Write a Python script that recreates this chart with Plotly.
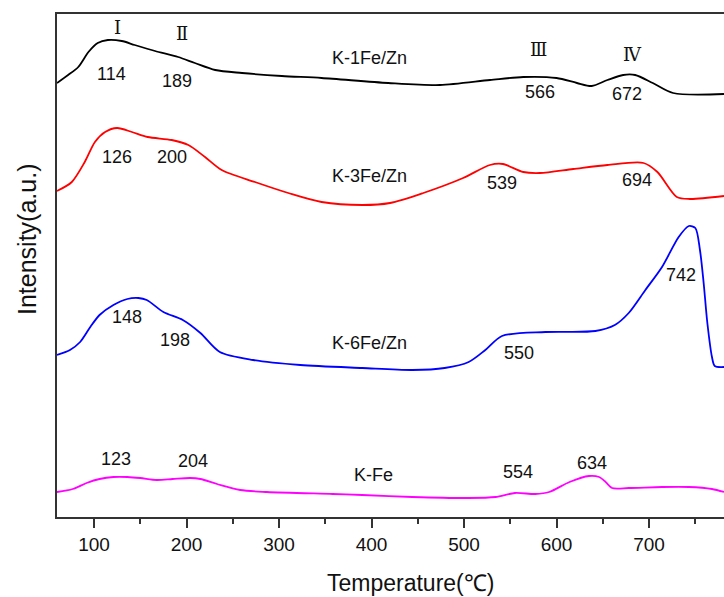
import plotly.graph_objects as go

# ---- H2-TPR profiles (temperature in degC, intensity in a.u., curves stacked) ----
temp_k1 = [60, 72, 83, 94, 104, 115, 130, 144, 166, 191, 209, 231, 260, 303, 346, 418,
           474, 528, 564, 600, 622, 638, 655, 672, 685, 704, 726, 781]
int_k1 = [434, 442, 450, 465, 474, 477, 476, 472, 466, 460, 454, 447, 444, 441, 439, 434,
          432, 437, 440, 439, 434, 431, 437, 442, 442, 434, 424, 423]

temp_k3 = [60, 76, 90, 101, 112, 125, 141, 158, 184, 202, 220, 238, 274, 310, 346, 390,
           420, 456, 499, 528, 542, 564, 582, 618, 655, 694, 709, 730, 744, 781]
int_k3 = [326, 335, 355, 375, 385, 389, 385, 380, 377, 372, 360, 347, 335, 324, 315, 312,
          314, 324, 339, 352, 353, 345, 344, 348, 352, 354, 345, 320, 318, 321]

temp_k6 = [60, 74, 85, 96, 106, 121, 136, 148, 157, 175, 196, 215, 236, 272, 323, 390, 444,
           479, 505, 523, 541, 588, 642, 663, 678, 696, 714, 732, 743, 750, 755, 759, 763,
           768, 771, 781]
int_k6 = [162, 167, 175, 190, 202, 212, 218, 219, 217, 205, 197, 184, 165, 157, 152, 149, 147,
          149, 155, 167, 181, 185, 186, 192, 204, 227, 250, 280, 291, 289, 267, 234, 194,
          160, 151, 150]

temp_kfe = [60, 77, 92, 106, 121, 136, 150, 168, 185, 204, 215, 233, 258, 287, 358, 390,
            444, 505, 534, 555, 577, 592, 614, 635, 646, 652, 660, 678, 714, 743, 768, 781]
int_kfe = [25, 28, 34, 38, 40, 40, 39, 37, 38, 39, 38, 33, 27, 25, 23, 22,
           20, 19, 20, 24, 23, 25, 35, 41, 40, 36, 29, 29, 30, 30, 28, 25]

sample_names = ["K-1Fe/Zn", "K-3Fe/Zn", "K-6Fe/Zn", "K-Fe"]
sample_colors = ["#000000", "#ff0000", "#0000ff", "#ff00ff"]

# reduction peak temperatures per sample
peaks_k1 = [114, 189, 566, 672]
peaks_k3 = [126, 200, 539, 694]
peaks_k6 = [148, 198, 550, 742]
peaks_kfe = [123, 204, 554, 634]

region_labels = ["Ⅰ", "Ⅱ", "Ⅲ", "Ⅳ"]

x_ticks = [100, 200, 300, 400, 500, 600, 700]

# ---- placement of the text labels (x, y in data units) ----
peak_label_pos = [
    [(119, 443), (190, 436), (582, 425), (676, 423)],
    [(125, 360), (184, 360), (541, 334), (687, 337)],
    [(136, 200), (188, 177), (559, 164), (734, 242)],
    [(124, 58), (207, 56), (558, 45), (638, 54)],
]
name_pos = [(398, 459), (398, 341), (398, 174), (402, 42)]
region_pos = [(125, 490), (195, 484), (580, 468), (682, 463)]

curves = [(temp_k1, int_k1), (temp_k3, int_k3), (temp_k6, int_k6), (temp_kfe, int_kfe)]
peaks = [peaks_k1, peaks_k3, peaks_k6, peaks_kfe]

fig = go.Figure()
for (t, y), name, col in zip(curves, sample_names, sample_colors):
    fig.add_trace(go.Scatter(
        x=t, y=y, mode="lines", name=name,
        line=dict(color=col, width=1.8, shape="spline", smoothing=0.8),
        showlegend=False, hoverinfo="x+name",
    ))

sans = "Liberation Sans, Arial, sans-serif"
annotations = []
for pk, pos in zip(peaks, peak_label_pos):
    for value, (px, py) in zip(pk, pos):
        annotations.append(dict(x=px, y=py, xref="x", yref="y", text=str(value),
                                showarrow=False, font=dict(family=sans, size=18, color="#111")))
for name, (px, py) in zip(sample_names, name_pos):
    annotations.append(dict(x=px, y=py, xref="x", yref="y", text=name,
                            showarrow=False, font=dict(family=sans, size=18, color="#111")))
for lab, (px, py) in zip(region_labels, region_pos):
    annotations.append(dict(x=px, y=py, xref="x", yref="y", text=lab,
                            showarrow=False,
                            font=dict(family="DejaVu Serif, Liberation Serif, serif",
                                      size=18, color="#111")))

# axis titles, positioned in pixels and converted to paper coordinates below
W, H = 724, 597
ml, mr, mt, mb = 57, 0, 14, 80
title_specs = [
    ("Temperature(℃)", 410, 583, 0, 23),
    ("Intensity(a.u.)", 27, 240, -90, 25),
]
for text, px, py, ang, size in title_specs:
    annotations.append(dict(
        x=(px - ml) / (W - ml - mr), y=(H - mb - py) / (H - mt - mb),
        xref="paper", yref="paper", xanchor="center", yanchor="middle",
        text=text, textangle=ang, showarrow=False,
        font=dict(family=sans, size=size, color="#111"),
    ))

fig.update_layout(
    width=W, height=H,
    margin=dict(l=ml, r=mr, t=mt, b=mb, pad=0),
    paper_bgcolor="white", plot_bgcolor="white",
    annotations=annotations,
    xaxis=dict(
        range=[60, 781], tickvals=x_ticks, ticks="outside", ticklen=9, tickwidth=1.5,
        tickcolor="#333", showline=True, linecolor="#333", linewidth=2, mirror=True,
        showgrid=False, zeroline=False,
        tickfont=dict(family=sans, size=19, color="#111"),
        minor=dict(dtick=50, tick0=0, ticks="outside", ticklen=5, tickwidth=1.5,
                   tickcolor="#333", showgrid=False),
    ),
    yaxis=dict(
        range=[0, 503], showticklabels=False, ticks="", showline=True, linecolor="#333",
        linewidth=2, showgrid=False, zeroline=False,
    ),
)

fig.write_html("out.html")
